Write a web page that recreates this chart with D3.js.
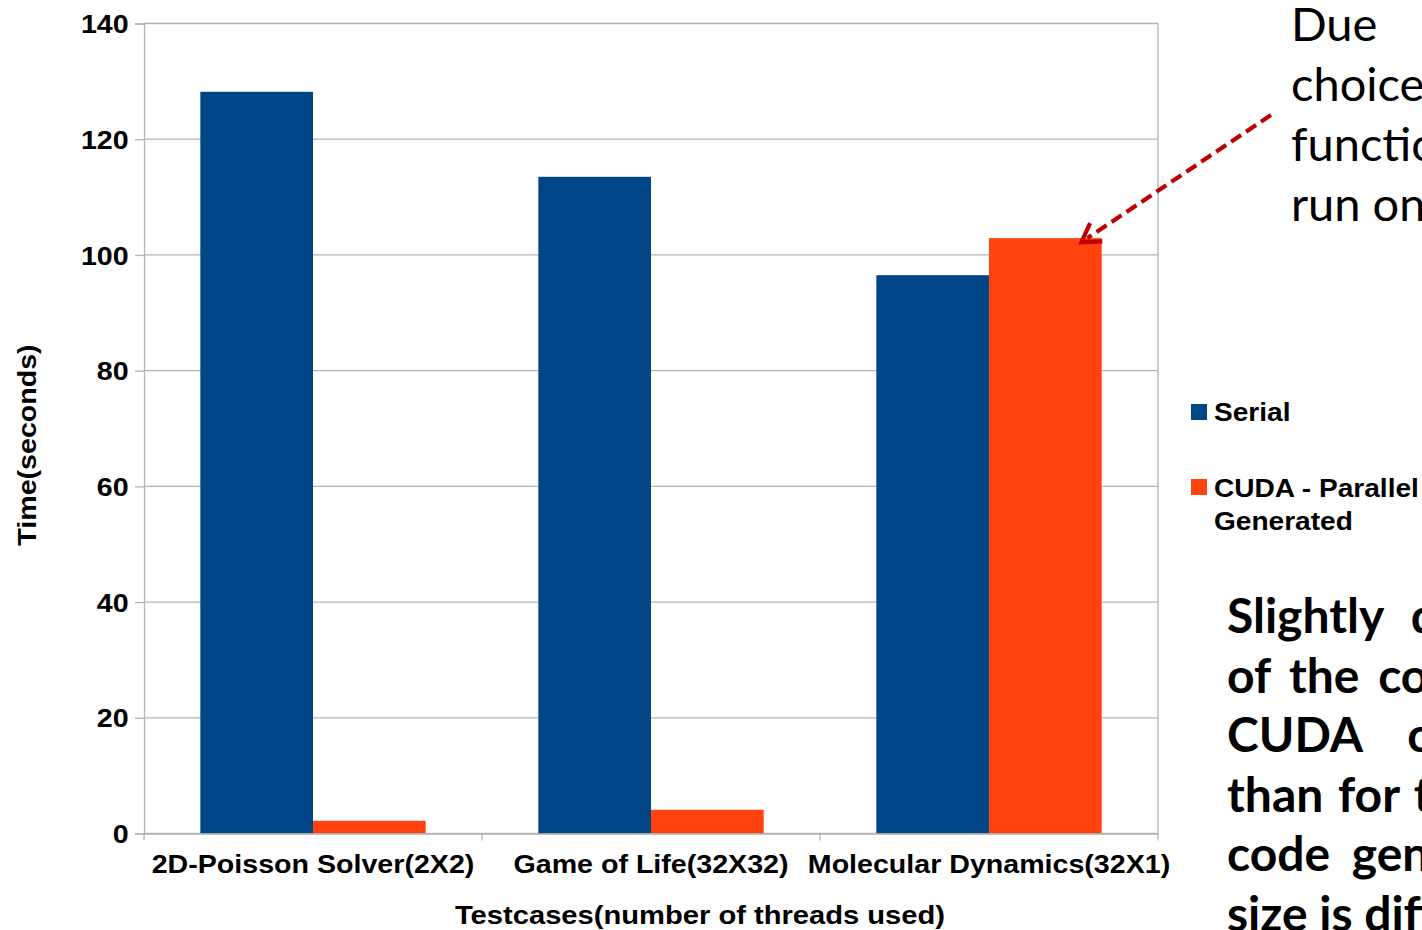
<!DOCTYPE html>
<html>
<head>
<meta charset="utf-8">
<script src="https://cdn.jsdelivr.net/npm/d3@7/dist/d3.min.js"></script>
<style>
  html, body { margin: 0; padding: 0; background: #fff; overflow: hidden; }
  svg { display: block; }
  .axis text { font-family: "Liberation Sans", Arial, sans-serif; font-weight: bold; fill: #000; }
</style>
</head>
<body>
<svg id="chart" width="1422" height="930"></svg>
<script>
// Benchmark timings (seconds)
const categories = ["2D-Poisson Solver(2X2)", "Game of Life(32X32)", "Molecular Dynamics(32X1)"];
const seriesNames = ["Serial", "CUDA - Parallel Generated"];
const serialTimes = [128.2, 113.5, 96.5];
const cudaTimes = [2.2, 4.1, 102.9];
const yTicks = [0, 20, 40, 60, 80, 100, 120, 140];
const seriesColors = ["#004586", "#ff420e"];

const noteTopLines = ["Due", "choice", "function", "run on"];
const noteBottomLines = [
  ["Slightly", "different"],
  ["of", "the", "code"],
  ["CUDA", "code"],
  ["than", "for", "the"],
  ["code", "generated"],
  ["size", "is", "different"]
];

const svg = d3.select("#chart");
const plot = { left: 144, right: 1158, top: 23.5, bottom: 833.5 };
const labelFont = "Liberation Sans, Arial, sans-serif";
const stretch = 1.1; // chart labels are drawn slightly wide

const x0 = d3.scaleBand().domain(categories).range([plot.left, plot.right]).padding(0);
const x1 = d3.scaleBand().domain(seriesNames).range([0, x0.bandwidth()]).paddingInner(0).paddingOuter(0.5);
const y = d3.scaleLinear().domain([0, 140]).range([plot.bottom, plot.top]);

// horizontal gridlines
svg.append("g").selectAll("line").data(yTicks).join("line")
  .attr("x1", plot.left).attr("x2", plot.right)
  .attr("y1", d => y(d)).attr("y2", d => y(d))
  .attr("stroke", "#b3b3b3").attr("stroke-width", 1.3);

// right frame edge
svg.append("line")
  .attr("x1", plot.right).attr("x2", plot.right)
  .attr("y1", plot.top).attr("y2", plot.bottom)
  .attr("stroke", "#b3b3b3").attr("stroke-width", 1.3);

// bars
const rows = categories.map((c, i) => ({ cat: c, vals: [serialTimes[i], cudaTimes[i]] }));
const groups = svg.append("g").selectAll("g").data(rows).join("g")
  .attr("transform", d => `translate(${x0(d.cat)},0)`);
groups.selectAll("rect").data(d => d.vals.map((v, j) => ({ name: seriesNames[j], v, j })))
  .join("rect")
  .attr("x", d => x1(d.name))
  .attr("width", x1.bandwidth())
  .attr("y", d => y(d.v))
  .attr("height", d => y(0) - y(d.v))
  .attr("fill", d => seriesColors[d.j]);

// y axis
const yAxis = svg.append("g").attr("class", "axis")
  .attr("transform", `translate(${plot.left},0)`)
  .call(d3.axisLeft(y).tickValues(yTicks).tickSize(9).tickPadding(5));
yAxis.select(".domain").attr("stroke", "#b3b3b3").attr("stroke-width", 1.3);
yAxis.selectAll(".tick line").attr("stroke", "#b3b3b3").attr("stroke-width", 1.3);
yAxis.selectAll("text").attr("font-size", 26).attr("dy", "0.35em")
  .attr("transform", `scale(${stretch},1)`);

// x axis with boundary ticks between categories
const xAxis = svg.append("g").attr("class", "axis")
  .attr("transform", `translate(0,${plot.bottom})`)
  .call(d3.axisBottom(x0).tickSize(0).tickPadding(21));
xAxis.select(".domain").attr("stroke", "#b3b3b3").attr("stroke-width", 1.3);
xAxis.selectAll("text").attr("font-size", 26).attr("dy", "0.71em")
  .attr("transform", `scale(${stretch},1)`);
const bounds = categories.map(c => x0(c)).concat([plot.right]);
xAxis.append("g").selectAll("line").data(bounds).join("line")
  .attr("x1", d => d).attr("x2", d => d).attr("y1", 0).attr("y2", 7)
  .attr("stroke", "#b3b3b3").attr("stroke-width", 1.3);

// axis titles
svg.append("text")
  .attr("transform", `translate(700,924) scale(${stretch},1)`)
  .attr("text-anchor", "middle")
  .attr("font-family", labelFont)
  .attr("font-weight", "bold").attr("font-size", 26.5)
  .text("Testcases(number of threads used)");
svg.append("text")
  .attr("transform", `translate(36,445) rotate(-90) scale(${stretch},1)`)
  .attr("text-anchor", "middle")
  .attr("font-family", labelFont)
  .attr("font-weight", "bold").attr("font-size", 26)
  .text("Time(seconds)");

// legend
const legend = svg.append("g").attr("font-family", labelFont)
  .attr("font-weight", "bold").attr("font-size", 26);
const legendY = [404, 479];
seriesNames.forEach((name, i) => {
  legend.append("rect").attr("x", 1191).attr("y", legendY[i]).attr("width", 16).attr("height", 16)
    .attr("fill", seriesColors[i]);
});
[["Serial", 421], ["CUDA - Parallel", 497], ["Generated", 530]].forEach(([t, yy]) => {
  legend.append("text").attr("transform", `translate(1214,${yy}) scale(1.08,1)`).text(t);
});

// upper note
const noteTop = svg.append("g").attr("font-family", "Lato, 'Open Sans', sans-serif")
  .attr("font-size", 47).attr("fill", "#000");
noteTopLines.forEach((t, i) => {
  noteTop.append("text").attr("x", 1291).attr("y", 41 + i * 60).text(t);
});

// lower note, justified lines
const noteBottom = svg.append("g").attr("font-family", "Lato, 'Open Sans', sans-serif")
  .attr("font-weight", "bold").attr("font-size", 48).attr("fill", "#000");
const wordSpacing = [16, 7, 34, 3, 10, 0];
noteBottomLines.forEach((words, i) => {
  noteBottom.append("text").attr("x", 1227).attr("y", 633 + i * 59.5)
    .attr("word-spacing", wordSpacing[i])
    .text(words.join(" "));
});

// dashed pointer to the CUDA bar of the last test case
const tipX = x0(categories[2]) + x1(seriesNames[1]) + x1.bandwidth() * 0.82;
const tipY = y(cudaTimes[2]) + 4;
const tailX = 1271, tailY = 115;
const arrow = svg.append("g").attr("stroke", "#c00000").attr("fill", "none")
  .attr("stroke-width", 4.2);
arrow.append("line")
  .attr("x1", tailX).attr("y1", tailY).attr("x2", tipX + 6).attr("y2", tipY - 4)
  .attr("stroke-dasharray", "12,6");
const ang = Math.atan2(tailY - tipY, tailX - tipX);
const headLen = 21, spread = 0.55;
arrow.append("path")
  .attr("d", `M${tipX + headLen * Math.cos(ang + spread)},${tipY + headLen * Math.sin(ang + spread)}
              L${tipX},${tipY}
              L${tipX + headLen * Math.cos(ang - spread)},${tipY + headLen * Math.sin(ang - spread)}`)
  .attr("stroke-linejoin", "miter");
</script>
</body>
</html>
